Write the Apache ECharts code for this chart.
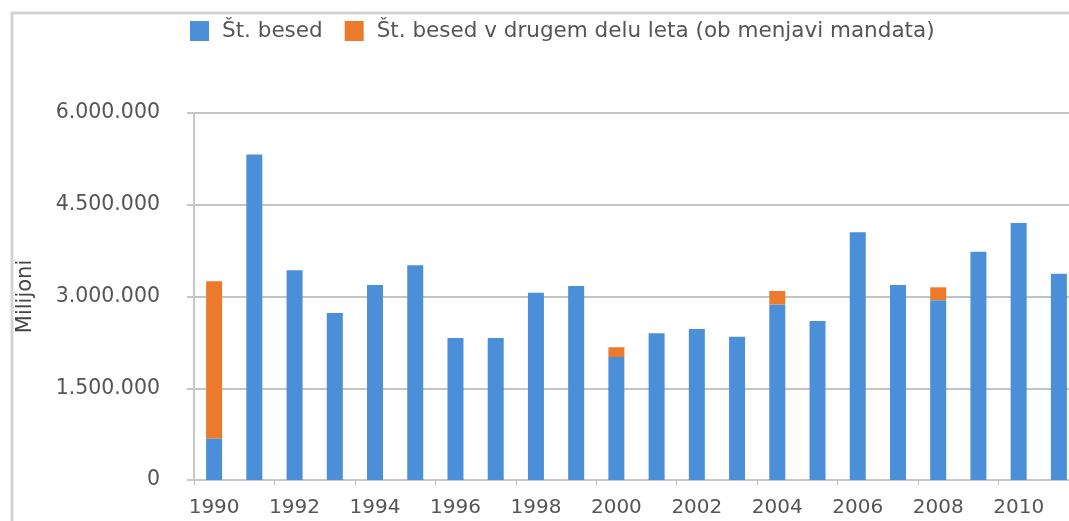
<!DOCTYPE html>
<html>
<head>
<meta charset="utf-8">
<script src="https://cdn.jsdelivr.net/npm/echarts@6/dist/echarts.min.js"></script>
<style>
  html, body { margin: 0; padding: 0; background: #fff; overflow: hidden; }
  #chart { width: 1080px; height: 521px; }
</style>
</head>
<body>
<div id="chart"></div>
<script>
// years on the x axis
var years = ['1990','1991','1992','1993','1994','1995','1996','1997','1998','1999','2000',
             '2001','2002','2003','2004','2005','2006','2007','2008','2009','2010','2011'];
// words spoken (blue)
var besed = [680000, 5320000, 3430000, 2730000, 3190000, 3510000, 2320000, 2320000, 3060000, 3170000, 2010000,
             2400000, 2470000, 2340000, 2870000, 2600000, 4050000, 3190000, 2940000, 3730000, 4200000, 3370000];
// words in second part of the year, after mandate change (orange)
var besedDrugi = [2570000, 0, 0, 0, 0, 0, 0, 0, 0, 0, 160000,
                  0, 0, 0, 220000, 0, 0, 0, 210000, 0, 0, 0];
var legendNames = ['Št. besed', 'Št. besed v drugem delu leta (ob menjavi mandata)'];

function fmt(v) {
    return String(v).replace(/\B(?=(\d{3})+(?!\d))/g, '.');
}

var myChart = echarts.init(document.getElementById('chart'));
var option = {
    animation: false,
    textStyle: { fontFamily: 'DejaVu Sans', color: '#555' },
    graphic: [{
        type: 'rect',
        shape: { x: 12, y: 13, width: 1100, height: 600 },
        style: { fill: 'none', stroke: '#d4d4d4', lineWidth: 3 },
        silent: true
    }],
    legend: {
        left: 185,
        top: 15,
        itemWidth: 19,
        itemHeight: 20,
        itemGap: 22,
        icon: 'rect',
        textStyle: { fontSize: 21.5, color: '#555', padding: [0, 0, 0, 8] },
        data: legendNames
    },
    grid: { left: 194, right: 1, top: 113, bottom: 41, containLabel: false, outerBoundsMode: 'none' },
    xAxis: {
        type: 'category',
        data: years,
        axisLine: { lineStyle: { color: '#c8c8c8', width: 2 } },
        axisTick: { show: true, length: 5, lineStyle: { color: '#d9b99c' } },
        axisLabel: { interval: 1, margin: 18, fontSize: 20, color: '#555' }
    },
    yAxis: {
        type: 'value',
        min: 0,
        max: 6000000,
        interval: 1500000,
        name: 'Milijoni',
        nameLocation: 'middle',
        nameRotate: 90,
        nameGap: 158,
        nameTextStyle: { fontSize: 21, color: '#444' },
        axisLine: { show: true, lineStyle: { color: '#c8c8c8', width: 2 } },
        axisTick: { show: true, length: 7, lineStyle: { color: '#c8c8c8', width: 2 } },
        splitLine: { lineStyle: { color: '#c4c4c4', width: 2 } },
        axisLabel: { margin: 34, fontSize: 20.5, color: '#555', formatter: fmt }
    },
    series: [
        {
            name: legendNames[0],
            type: 'bar',
            stack: 'b',
            barWidth: 16,
            itemStyle: { color: '#4a8fd8' },
            data: besed
        },
        {
            name: legendNames[1],
            type: 'bar',
            stack: 'b',
            barWidth: 16,
            itemStyle: { color: '#ec7a2c' },
            data: besedDrugi
        }
    ]
};
myChart.setOption(option);
</script>
</body>
</html>
